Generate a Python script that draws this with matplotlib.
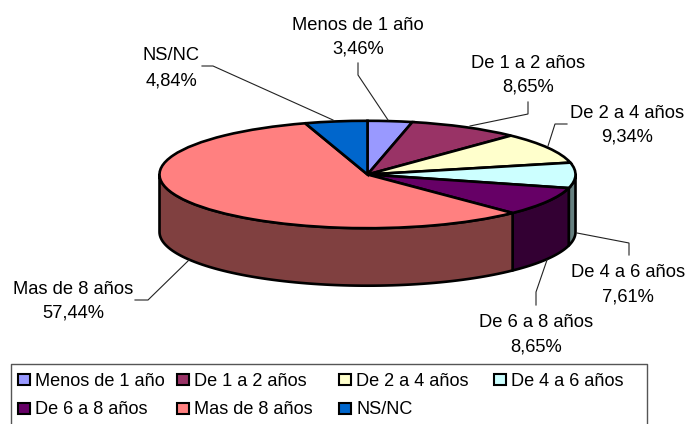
import numpy as np
import matplotlib
matplotlib.use("Agg")
import matplotlib.pyplot as plt
from matplotlib.patches import Polygon, Rectangle

plt.rcParams['font.family'] = ['Liberation Sans', 'DejaVu Sans']

categories = ["Menos de 1 año", "De 1 a 2 años", "De 2 a 4 años", "De 4 a 6 años",
              "De 6 a 8 años", "Mas de 8 años", "NS/NC"]
values = [3.46, 8.65, 9.34, 7.61, 8.65, 57.44, 4.84]
value_labels = ["3,46%", "8,65%", "9,34%", "7,61%", "8,65%", "57,44%", "4,84%"]
colors = ["#9999FF", "#993366", "#FFFFCC", "#CCFFFF", "#660066", "#FF8080", "#0066CC"]
side_colors = ["#4D4D80", "#4D1A33", "#808066", "#668080", "#330033", "#804040", "#003366"]

W, H = 686, 424
CX, CY, RX, RY, DEPTH = 367.5, 174.5, 208.0, 53.7, 57.5
FS = 13.2

fig = plt.figure(figsize=(W / 100, H / 100), dpi=100, facecolor="white")
ax = fig.add_axes([0, 0, 1, 1])
ax.pie(values, colors=colors, startangle=90, counterclock=False, radius=1,
       wedgeprops=dict(edgecolor="black", linewidth=1.9), normalize=True)
ax.set_aspect("auto")
ax.set_xlim(-CX / RX, (W - CX) / RX)
ax.set_ylim((CY - H) / RY, CY / RY)
ax.axis("off")

# visible side wall of the extruded pie, from the same slice angles
d = DEPTH / RY
edges = np.concatenate([[0], np.cumsum(values)]) / np.sum(values) * 2 * np.pi
for i in range(len(values)):
    a0, a1 = max(edges[i], np.pi / 2), min(edges[i + 1], 3 * np.pi / 2)
    if a1 <= a0:
        continue
    t = np.linspace(a0, a1, 80)
    x, y = np.sin(t), np.cos(t)
    pts = np.vstack([np.c_[x, y], np.c_[x[::-1], y[::-1] - d]])
    ax.add_patch(Polygon(pts, closed=True, facecolor=side_colors[i], edgecolor="black",
                         linewidth=1.9, zorder=0.5, joinstyle="round"))

# overlay in pixel coordinates for labels, leaders and legend
ov = fig.add_axes([0, 0, 1, 1], facecolor="none")
ov.set_xlim(0, W)
ov.set_ylim(H, 0)
ov.axis("off")

label_pos = [(358, 30, 54), (528, 68, 92), (627, 118, 142), (628, 277, 301),
             (536, 327, 352), (73, 294, 318), (171, 60, 85)]
leaders = [[(358, 63), (358, 75), (388, 120)],
           [(528, 102), (528, 114), (470, 126)],
           [(567, 124), (555, 124), (548, 146)],
           [(629, 255), (629, 243), (577, 233)],
           [(536, 305), (536, 292), (547, 260)],
           [(135, 300), (148, 300), (189, 260)],
           [(202, 66), (213, 66), (333, 120)]]
for cat, val, (x, y1, y2), ld in zip(categories, value_labels, label_pos, leaders):
    ov.text(x, y1, cat, ha="center", va="baseline", fontsize=FS, color="black")
    ov.text(x, y2, val, ha="center", va="baseline", fontsize=FS, color="black")
    lx, ly = zip(*ld)
    ov.plot(lx, ly, color="#222222", lw=0.8, solid_joinstyle="miter")

# legend
ov.plot([11, 11, 647, 647], [H + 2, 364, 364, H + 2], color="#555555", lw=1.0, clip_on=True)
legend_pos = [(17, 373), (176, 373), (338, 373), (493, 373), (17, 402), (176, 402), (338, 402)]
for cat, col, (x, y) in zip(categories, colors, legend_pos):
    ov.add_patch(Rectangle((x + 0.7, y + 0.7), 12, 11.5, facecolor=col, edgecolor="black", linewidth=1.5))
    ov.text(x + 18, y + 12.5, cat, ha="left", va="baseline", fontsize=FS - 0.1, color="black")

fig.savefig("out.png", dpi=100, facecolor="white")
